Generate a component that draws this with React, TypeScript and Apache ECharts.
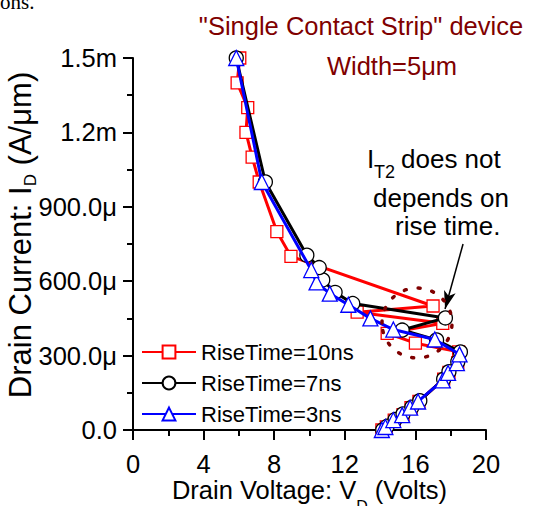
import React, { useEffect, useRef } from 'react';
import * as echarts from 'echarts';

// ---- data (Drain voltage in V, drain current in µA/µm) ----
const seriesNames = ['RiseTime=10ns', 'RiseTime=7ns', 'RiseTime=3ns'];

const v10 = [14.1, 14.35, 14.8, 15.3, 15.75, 16.2, 17.6, 17.9, 18.4, 18.45, 16.0, 14.4, 17.55, 12.7, 17.0, 8.95, 8.15, 7.15, 6.75, 6.4, 6.5, 5.9, 6.05];
const i10 = [0, 12, 40, 62, 90, 115, 205, 232, 272, 315, 350, 390, 430, 475, 500, 700, 800, 1000, 1100, 1200, 1300, 1400, 1500];

const v7 = [14.15, 14.4, 14.85, 15.3, 15.8, 16.25, 17.6, 17.9, 18.4, 18.55, 17.2, 15.25, 17.7, 12.45, 11.45, 10.75, 10.55, 9.85, 7.5, 5.85];
const i7 = [0, 15, 42, 65, 92, 118, 205, 235, 275, 315, 363, 403, 452, 510, 555, 605, 655, 705, 1000, 1500];

const v3 = [14.1, 14.3, 14.75, 15.25, 15.7, 16.15, 17.55, 17.85, 18.35, 18.5, 17.1, 14.75, 13.45, 12.2, 11.15, 10.4, 10.1, 7.3, 5.85];
const i3 = [0, 12, 40, 60, 90, 115, 200, 230, 270, 305, 365, 405, 450, 505, 550, 595, 645, 1000, 1500];

const xRange = [0, 20];
const xStep = 4;
const yRange = [0, 1500];
const yStep = 300;

// annotation arrow (data coords): from text to the IT2 point
const arrowFrom = [18.7, 750];
const arrowTo = [17.68, 488];

const FONT = '"Liberation Sans", Arial, sans-serif';
const DARKRED = '#800000';

const pairs = (v: number[], i: number[]) => v.map((x, k) => [x, i[k]]);

const yFmt = (val: number) => {
  if (val === 0) return '0.0';
  if (val < 1000) return val.toFixed(1) + 'μ';
  return (val / 1000).toFixed(1) + 'm';
};

export default function App() {
  const ref = useRef<HTMLDivElement>(null);
  useEffect(() => {
    const chart = echarts.init(ref.current!, null, { renderer: 'svg' });
    const axisCommon = {
      axisLine: { show: true, lineStyle: { color: '#000', width: 2 } },
      axisTick: { show: true, inside: false, length: 10, lineStyle: { color: '#000', width: 2 } },
      minorTick: { show: true, splitNumber: 2, length: 6, lineStyle: { color: '#000', width: 2 } },
      splitLine: { show: false },
      minorSplitLine: { show: false },
      nameMoveOverlap: false,
    };
    const mk = (name: string, data: number[][], color: string, symbol: string, size: number, z: number) => ({
      name,
      type: 'line',
      data,
      z,
      symbol,
      symbolSize: size,
      showSymbol: true,
      lineStyle: { color, width: 3 },
      itemStyle: { color: '#fff', borderColor: color, borderWidth: 1.3 },
      emphasis: { disabled: true },
    });
    const s10 = mk(seriesNames[0], pairs(v10, i10), '#ff0000', 'rect', 12, 2);
    const s7: any = mk(seriesNames[1], pairs(v7, i7), '#000000', 'circle', 14, 3);
    const s3 = mk(seriesNames[2], pairs(v3, i3), '#0000ff', 'triangle', 15, 4);
    s7.markLine = {
      silent: true,
      symbol: ['none', 'arrow'],
      symbolSize: [9, 18],
      label: { show: false },
      lineStyle: { color: '#000', width: 1.5, type: 'solid' },
      data: [[{ coord: arrowFrom }, { coord: arrowTo }]],
    };

    chart.setOption({
      animation: false,
      textStyle: { fontFamily: FONT },
      grid: { left: 133, right: 68, top: 58, bottom: 76, containLabel: false, outerBoundsMode: 'none' },
      xAxis: {
        type: 'value',
        min: xRange[0],
        max: xRange[1],
        interval: xStep,
        ...axisCommon,
        axisLabel: { fontSize: 25.5, color: '#000', margin: 21, fontFamily: FONT },
        name: '{m|Drain Voltage: V}{sub|D}{m| (Volts)}',
        nameLocation: 'middle',
        nameGap: 46.5,
        nameTextStyle: {
          fontSize: 25.5, color: '#000', fontFamily: FONT,
          rich: {
            m: { fontSize: 25.5, color: '#000', fontFamily: FONT, lineHeight: 25.5, verticalAlign: 'top' },
            sub: { fontSize: 16, color: '#000', fontFamily: FONT, lineHeight: 16, padding: [21.5, 0, 0, 0], verticalAlign: 'top' },
          },
        },
      },
      yAxis: {
        type: 'value',
        min: yRange[0],
        max: yRange[1],
        interval: yStep,
        ...axisCommon,
        axisLabel: { fontSize: 25.5, color: '#000', margin: 16, fontFamily: FONT, formatter: yFmt },
        name: 'Drain Current: I{sub|D} (A/μm)',
        nameLocation: 'middle',
        nameRotate: 90,
        nameGap: 94,
        nameTextStyle: {
          fontSize: 31, color: '#000', fontFamily: FONT, padding: [0, 0, 0, 18],
          rich: { sub: { fontSize: 17, color: '#000', fontFamily: FONT, padding: [21, 0, 0, 0] } },
        },
      },
      legend: {
        orient: 'vertical',
        left: 136,
        top: 336,
        itemWidth: 54,
        itemHeight: 16,
        itemGap: 9,
        data: seriesNames,
        selectedMode: false,
        textStyle: { fontSize: 22, color: '#000', fontFamily: FONT, lineHeight: 22 },
      },
      series: [s10, s7, s3],
      graphic: [
        { type: 'text', x: 0, y: 2, style: { text: 'ons.', fontSize: 21, fontFamily: '"Liberation Serif", "Times New Roman", serif', fill: '#000', textAlign: 'left', textVerticalAlign: 'middle' } },
        { type: 'text', x: 361, y: 26, style: { text: '"Single Contact Strip" device', fontSize: 25.5, fontFamily: FONT, fill: DARKRED, textAlign: 'center', textVerticalAlign: 'middle' } },
        { type: 'text', x: 392, y: 66, style: { text: 'Width=5μm', fontSize: 25.5, fontFamily: FONT, fill: DARKRED, textAlign: 'center', textVerticalAlign: 'middle' } },
        { type: 'text', x: 367, y: 159, style: { text: 'I', fontSize: 26, fontFamily: FONT, fill: '#000', textAlign: 'left', textVerticalAlign: 'middle' } },
        { type: 'text', x: 374, y: 172, style: { text: 'T2', fontSize: 18, fontFamily: FONT, fill: '#000', textAlign: 'left', textVerticalAlign: 'middle' } },
        { type: 'text', x: 401, y: 159, style: { text: 'does not', fontSize: 26, fontFamily: FONT, fill: '#000', textAlign: 'left', textVerticalAlign: 'middle' } },
        { type: 'text', x: 373, y: 198, style: { text: 'depends on', fontSize: 26, fontFamily: FONT, fill: '#000', textAlign: 'left', textVerticalAlign: 'middle' } },
        { type: 'text', x: 395, y: 226, style: { text: 'rise time.', fontSize: 26, fontFamily: FONT, fill: '#000', textAlign: 'left', textVerticalAlign: 'middle' } },
        { type: 'ellipse', z: 10, shape: { cx: 417, cy: 323, rx: 35, ry: 35 }, style: { fill: 'none', stroke: DARKRED, lineWidth: 3.5, lineDash: [2, 12], lineCap: 'round' } },
      ],
    });
    return () => chart.dispose();
  }, []);
  return <div ref={ref} style={{ position: 'absolute', left: 0, top: 0, width: 554, height: 506 }} />;
}
